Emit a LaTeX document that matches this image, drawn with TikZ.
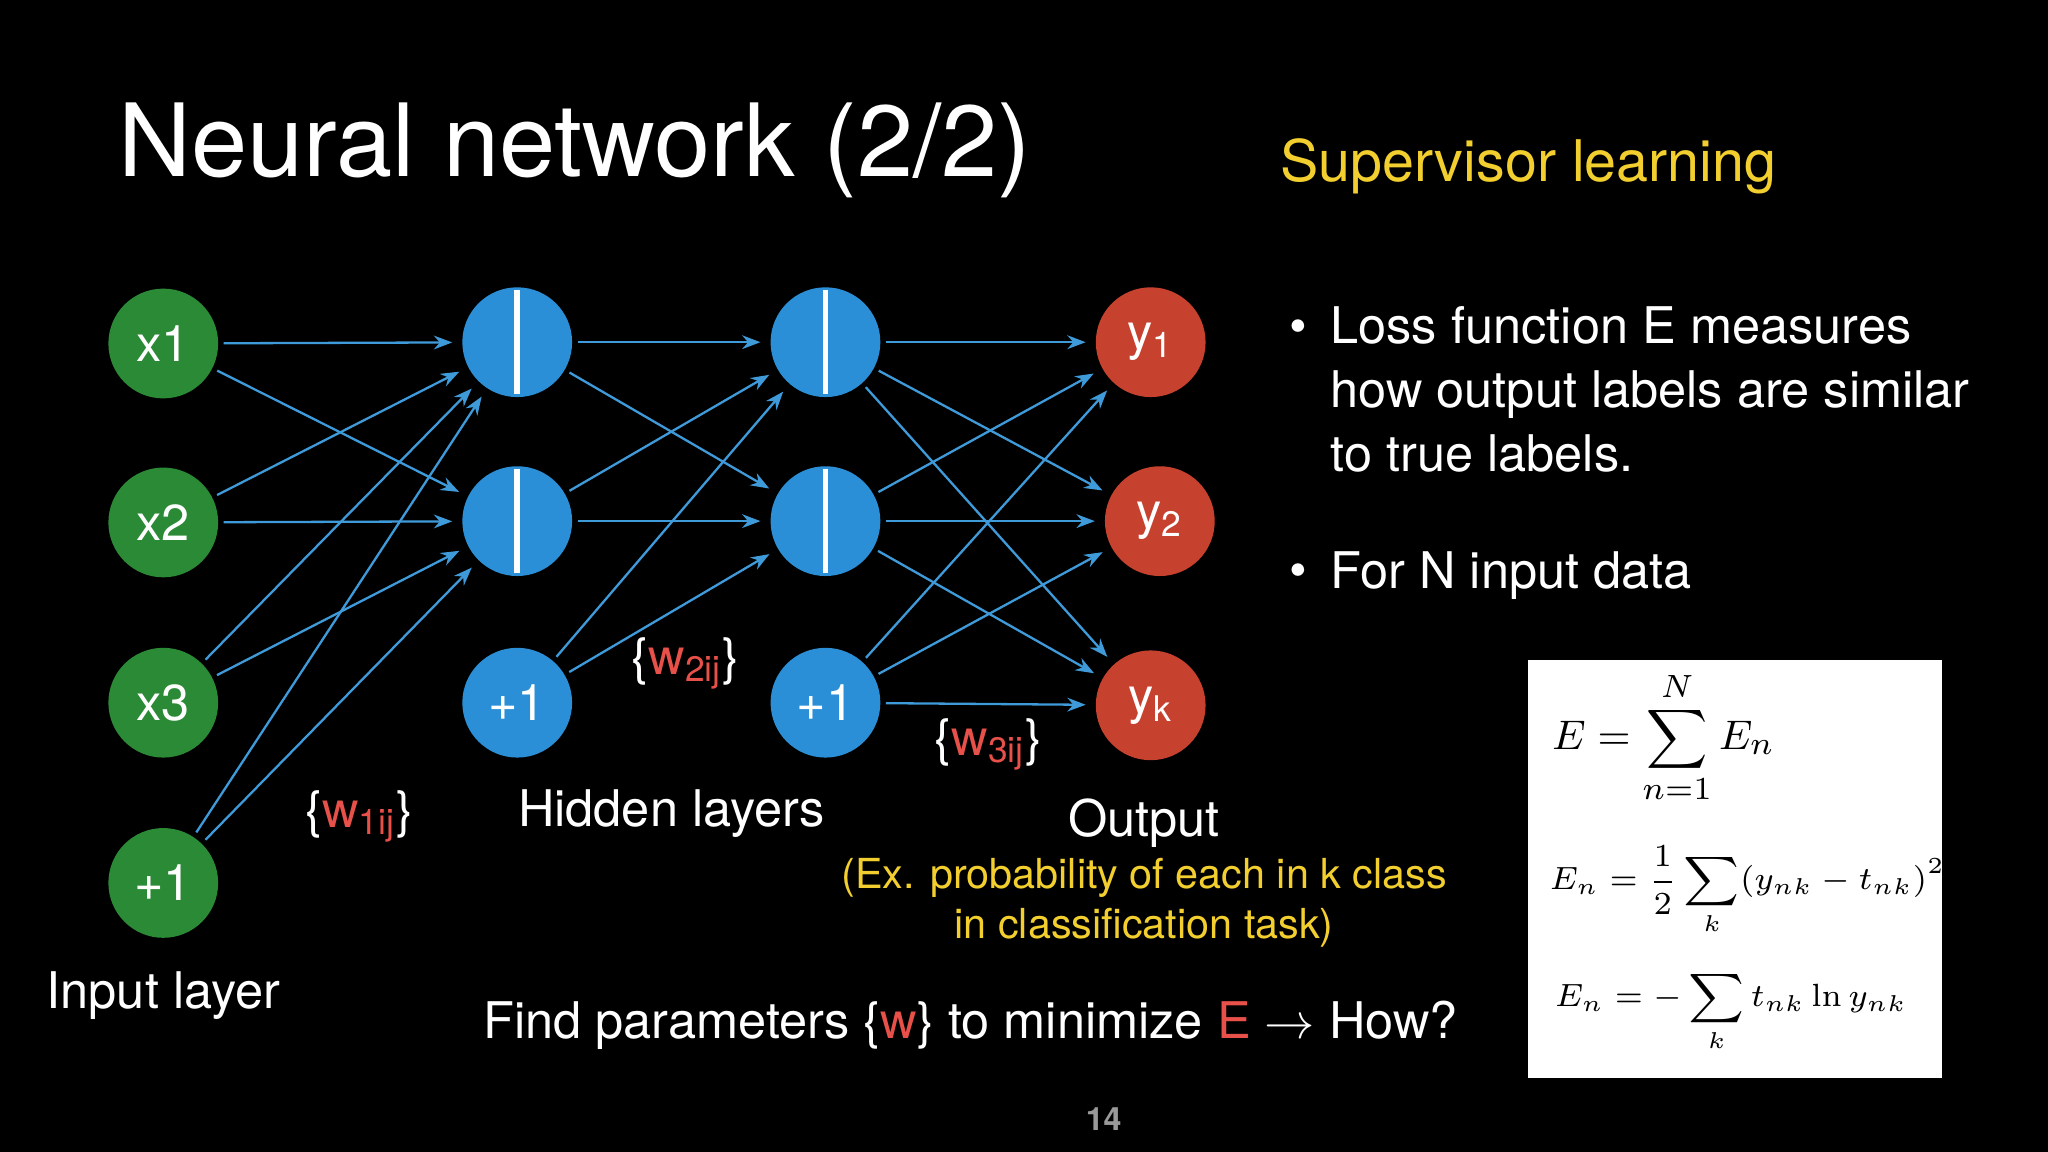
\documentclass[tikz,border=0pt]{standalone}
\usepackage{amsmath}
\usepackage[no-math]{fontspec}
\setmainfont{TeX Gyre Heros}
\usetikzlibrary{arrows.meta}
\definecolor{ngreen}{HTML}{2B8A36}
\definecolor{nblue}{HTML}{2A8FD6}
\definecolor{nred}{HTML}{C7412F}
\definecolor{wred}{HTML}{E8504A}
\definecolor{ylw}{HTML}{F2CF2E}
\begin{document}
\begin{tikzpicture}[x=0.01cm,y=-0.01cm,
  neuron/.style={circle,minimum size=0.84cm,inner sep=0pt,text=white,font=\fontsize{11}{13}\selectfont},
  inp/.style={neuron,fill=ngreen},
  hid/.style={neuron,fill=nblue},
  outp/.style={neuron,fill=nred},
  conn/.style={nblue!90!white,line width=0.5pt,-{Stealth[length=4pt,width=3pt]},shorten >=2pt,shorten <=1pt},
  lbl/.style={text=white,font=\fontsize{11}{13}\selectfont}]
\fill[black] (0,0) rectangle (1568,882);
\useasboundingbox (0,0) rectangle (1568,882);

\node[lbl,font=\fontsize{22}{26}\selectfont] (title) at (440,115) {Neural network (2/2)};
\node[text=ylw,font=\fontsize{12.5}{15}\selectfont] (sup) at (1170,127) {Supervisor learning};

% input layer
\node[inp] (x1) at (125,263) {x1};
\node[inp] (x2) at (125,400) {x2};
\node[inp] (x3) at (125,538) {x3};
\node[inp] (x4) at (125,676) {+1};
% hidden layers
\foreach \n/\x/\y in {a1/396/262,a2/396/399,b1/632/262,b2/632/399}{
  \node[hid] (\n) at (\x,\y) {};
  \draw[white,line width=1.2pt] (\x,\y-40) -- (\x,\y+40);
}
\node[hid] (a3) at (396,538) {+1};
\node[hid] (b3) at (632,538) {+1};
% output
\node[outp] (y1) at (881,262) {y\textsubscript{1}};
\node[outp] (y2) at (888,399) {y\textsubscript{2}};
\node[outp] (y3) at (881,540) {y\textsubscript{k}};

\foreach \s in {x1,x2,x3,x4}{\foreach \t in {a1,a2}{\draw[conn] (\s) -- (\t);}}
\foreach \s in {a1,a2,a3}{\foreach \t in {b1,b2}{\draw[conn] (\s) -- (\t);}}
\foreach \s in {b1,b2,b3}{\foreach \t in {y1,y2,y3}{\draw[conn] (\s) -- (\t);}}

\node[lbl] (w1) at (275,625) {\{\textcolor{wred}{w\textsubscript{1ij}}\}};
\node[lbl] (w2) at (525,508) {\{\textcolor{wred}{w\textsubscript{2ij}}\}};
\node[lbl] (w3) at (757,570) {\{\textcolor{wred}{w\textsubscript{3ij}}\}};
\node[lbl] (hl) at (514,623) {Hidden layers};
\node[lbl] (ol) at (876,630) {Output};
\node[text=ylw,align=center,font=\fontsize{9}{11}\selectfont] (ex) at (876,691) {(Ex. probability of each in k class\\in classification task)};
\node[lbl] (il) at (125,762) {Input layer};
\node[lbl] (find) at (743,785) {Find parameters \{\textcolor{wred}{w}\} to minimize \textcolor{wred}{E} $\rightarrow$ How?};
\node[text=gray!80,font=\bfseries\fontsize{7}{8}\selectfont] (pg) at (845,857) {14};

% bullets
\node[lbl,anchor=north west,align=left,font=\fontsize{11}{14}\selectfont,inner xsep=0pt] (bt1) at (1018,222) {Loss function E measures\\how output labels are similar\\to true labels.};
\node[lbl,anchor=west] (d1) at (975,254) {•};
\node[lbl,anchor=west] (d2) at (975,441) {•};
\node[lbl,anchor=west,inner xsep=0pt] (bt2) at (1018,441) {For N input data};

% formula box
\fill[white] (1170,505) rectangle (1487,825);
\node[anchor=west,font=\fontsize{9.5}{12}\selectfont] (e1) at (1176,565) {$E=\displaystyle\sum_{n=1}^{N}E_n$};
\node[anchor=west,font=\fontsize{7.5}{9}\selectfont] (e2) at (1174,682) {$E_n=\dfrac{1}{2}\displaystyle\sum_{k}(y_{nk}-t_{nk})^2$};
\node[anchor=west,font=\fontsize{7.5}{9}\selectfont] (e3) at (1178,775) {$E_n=-\displaystyle\sum_{k}t_{nk}\ln y_{nk}$};
\end{tikzpicture}
\end{document}
